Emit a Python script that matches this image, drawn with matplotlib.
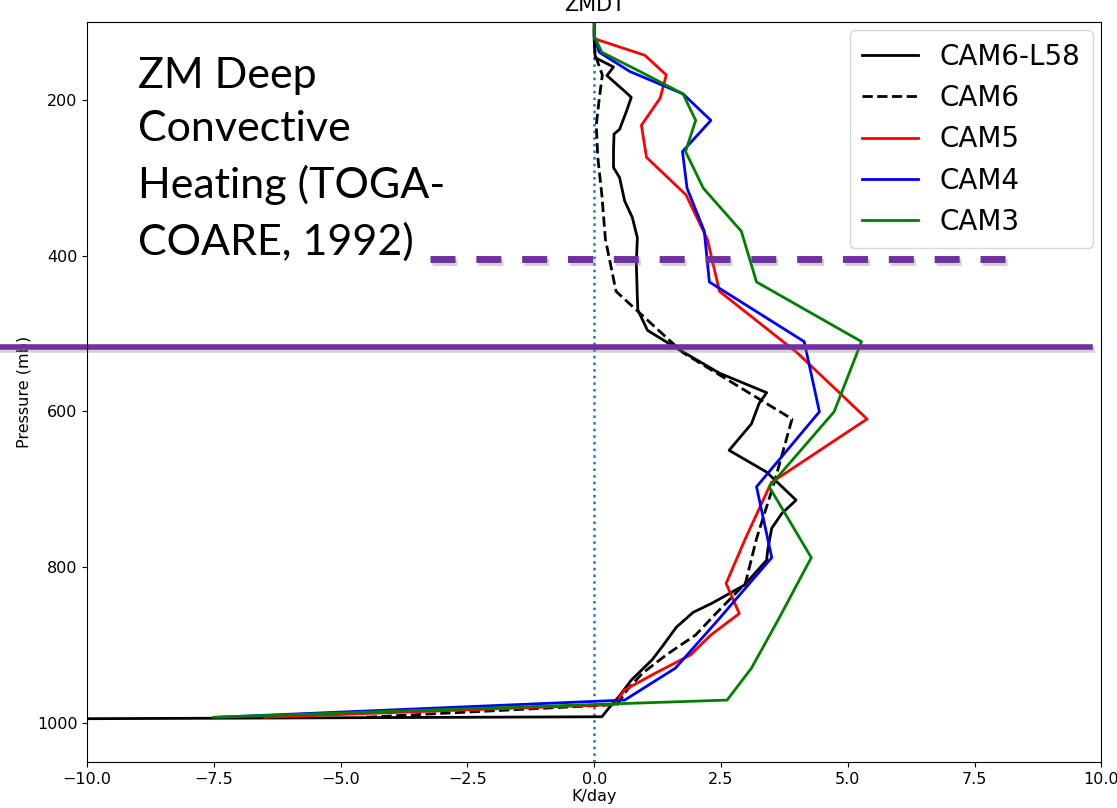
import matplotlib.pyplot as plt
import matplotlib.patheffects as pe

# model level pressures (mb) and ZM deep convective heating (K/day)
lev_cam34 = [85.4, 100.5, 118.3, 139.1, 163.7, 192.5, 226.5, 266.5, 313.5, 368.8,
             433.9, 510.5, 600.5, 696.8, 787.7, 867.2, 929.6, 970.6, 992.6]
lev_cam56 = [87.8, 103.3, 121.6, 143.0, 168.2, 197.9, 232.8, 273.9, 322.2, 379.1,
             446.0, 524.7, 609.8, 691.4, 763.4, 820.9, 859.5, 887.0, 912.6, 936.2,
             957.5, 976.3, 992.6]
lev_l58 = [90, 125, 146, 158, 169, 192, 197, 214, 238, 244, 265, 287, 300, 330, 351,
           377, 410, 454, 470, 496, 518, 551, 576, 590, 616, 650, 678, 714, 731, 750,
           778, 791, 823, 846, 858, 877, 902, 919, 945, 965, 980, 992, 995]

cam6_l58 = [0.0, 0.0, 0.02, 0.38, 0.25, 0.65, 0.73, 0.64, 0.5, 0.39, 0.38, 0.38, 0.5,
            0.6, 0.75, 0.85, 0.83, 0.85, 0.86, 1.05, 1.6, 2.47, 3.4, 3.25, 3.1, 2.66,
            3.4, 3.98, 3.7, 3.5, 3.42, 3.4, 2.96, 2.33, 1.95, 1.62, 1.34, 1.14, 0.73,
            0.5, 0.3, 0.15, -12.0]
cam6 = [0.0, 0.0, 0.0, 0.02, 0.16, 0.1, 0.04, 0.07, 0.15, 0.22, 0.43, 1.75, 3.9, 3.55,
        3.2, 2.98, 2.4, 2.0, 1.42, 0.95, 0.65, 0.45, -4.5]
cam5 = [0.0, 0.0, 0.0, 1.0, 1.42, 1.3, 0.93, 1.03, 1.81, 2.23, 2.47, 4.0, 5.38, 3.49,
        2.98, 2.6, 2.86, 2.3, 1.9, 1.2, 0.6, 0.4, -6.5]
cam4 = [0.0, 0.0, 0.0, 0.1, 0.7, 1.75, 2.3, 1.74, 1.83, 2.17, 2.27, 4.14, 4.44, 3.2,
        3.5, 2.45, 1.6, 0.6, -7.4]
cam3 = [0.0, 0.0, 0.0, 0.15, 0.9, 1.75, 2.0, 1.8, 2.15, 2.9, 3.2, 5.27, 4.73, 3.45,
        4.28, 3.63, 3.1, 2.62, -7.5]

# levels marked on the plot
p_dashed = 405
p_solid = 518
purple = '#7030a0'

fig = plt.figure(figsize=(11.17, 8.08), dpi=100)
ax = fig.add_axes([0.078, 0.057, 0.908, 0.916])

ax.axvline(0, color='#1f77b4', linestyle=':', lw=1.8)
ax.plot(cam6_l58, lev_l58, color='black', lw=2, label='CAM6-L58')
ax.plot(cam6, lev_cam56, color='black', lw=2, ls='--', label='CAM6')
ax.plot(cam5, lev_cam56, color='red', lw=2, label='CAM5')
ax.plot(cam4, lev_cam34, color='blue', lw=2, label='CAM4')
ax.plot(cam3, lev_cam34, color='green', lw=2, label='CAM3')

ax.set_xlim(-10, 10)
ax.set_ylim(1050, 100)
ax.set_yticks([200, 400, 600, 800, 1000])
ax.tick_params(labelsize=11.5)
ax.set_xlabel('K/day', fontsize=11.5, labelpad=2)
ax.set_ylabel('Pressure (mb)', fontsize=11.5)
ax.set_title('ZMDT', fontsize=15, pad=7.5)

ax.legend(loc='upper right', fontsize=20, handlelength=2.0, borderaxespad=0.3,
          labelspacing=0.48, borderpad=0.45)

shadow = [pe.SimpleLineShadow(offset=(1.5, -2), shadow_color='gray', alpha=0.35), pe.Normal()]
ax.axhline(p_dashed, xmin=0.338, xmax=0.922, color=purple, lw=5,
           dashes=(3.6, 3.0), clip_on=False, path_effects=shadow)
ax.axhline(p_solid, xmin=-0.086, xmax=0.989, color=purple, lw=4,
           clip_on=False, path_effects=shadow)

ax.text(0.05, 0.953, 'ZM Deep\nConvective\nHeating (TOGA-\nCOARE, 1992)',
        transform=ax.transAxes, fontsize=31, family='Lato', va='top', ha='left',
        linespacing=1.51)

fig.savefig('out.png', dpi=100)
